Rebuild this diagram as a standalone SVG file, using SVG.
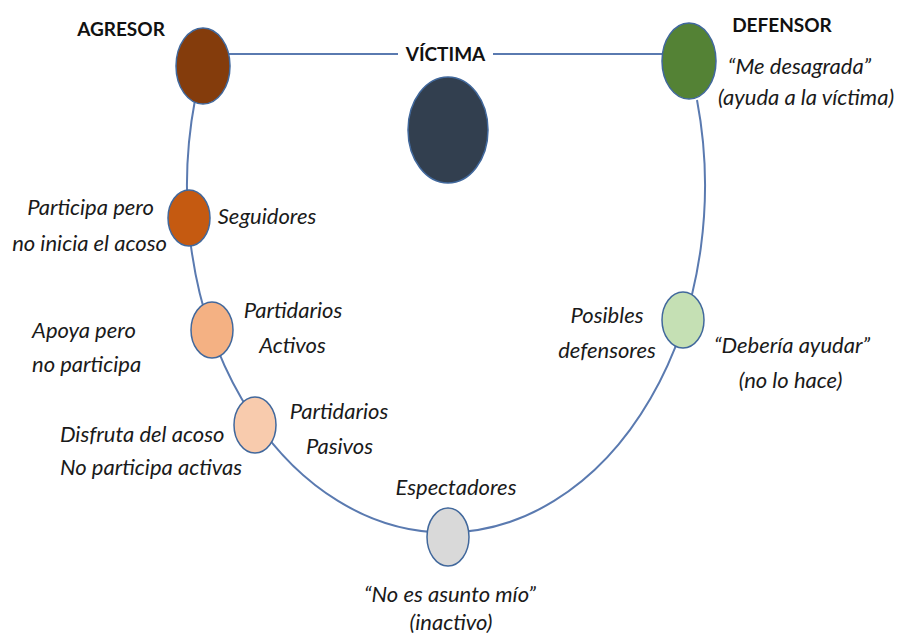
<svg xmlns="http://www.w3.org/2000/svg" width="899" height="638" viewBox="0 0 899 638">
<style>
  .lbl{font-family:Lato,"Open Sans","Liberation Sans",sans-serif;font-size:22px;font-style:italic;fill:#1a1a1a}
  .hd{font-family:Lato,"Open Sans","Liberation Sans",sans-serif;font-size:19px;font-weight:bold;fill:#111}
  .m{text-anchor:middle}
  .node{stroke:#41689c;stroke-width:1.5}
  .conn{fill:none;stroke:#5a7ab0;stroke-width:2}
</style>
<rect width="899" height="638" fill="#fff"/>
<g id="connectors">
  <path class="conn" d="M 195 100 A 259 347 0 1 0 697 100"/>
  <line class="conn" x1="228" y1="54" x2="398" y2="54"/>
  <line class="conn" x1="493" y1="54" x2="664" y2="54"/>
</g>
<g id="agresor">
  <ellipse class="node" cx="203" cy="66" rx="27" ry="38" fill="#843c0c"/>
  <text class="hd m" x="121" y="36">AGRESOR</text>
</g>
<g id="victima">
  <ellipse class="node" cx="448" cy="130" rx="40" ry="53" fill="#323f4f"/>
  <text class="hd m" x="445.5" y="61">VÍCTIMA</text>
</g>
<g id="defensor">
  <ellipse class="node" cx="689" cy="61" rx="27" ry="38" fill="#548235"/>
  <text class="hd m" x="782" y="32">DEFENSOR</text>
  <text class="lbl m" x="799.5" y="74">“Me desagrada”</text>
  <text class="lbl m" x="806" y="105">(ayuda a la víctima)</text>
</g>
<g id="seguidores">
  <ellipse class="node" cx="189" cy="218" rx="21" ry="28" fill="#c55a11"/>
  <text class="lbl m" x="267" y="224">Seguidores</text>
  <text class="lbl m" x="90.5" y="215">Participa pero</text>
  <text class="lbl m" x="89.5" y="251">no inicia el acoso</text>
</g>
<g id="partidarios-activos">
  <ellipse class="node" cx="212" cy="330" rx="21" ry="28" fill="#f4b183"/>
  <text class="lbl m" x="293" y="318">Partidarios</text>
  <text class="lbl m" x="292.5" y="353">Activos</text>
  <text class="lbl" x="32" y="338">Apoya pero</text>
  <text class="lbl" x="32" y="372">no participa</text>
</g>
<g id="partidarios-pasivos">
  <ellipse class="node" cx="255" cy="425" rx="21" ry="28" fill="#f8cbad"/>
  <text class="lbl m" x="339" y="419">Partidarios</text>
  <text class="lbl m" x="339.5" y="454">Pasivos</text>
  <text class="lbl" x="60" y="442">Disfruta del acoso</text>
  <text class="lbl" x="60" y="475">No participa activas</text>
</g>
<g id="espectadores">
  <ellipse class="node" cx="448" cy="537" rx="21" ry="29" fill="#d9d9d9"/>
  <text class="lbl m" x="456" y="495">Espectadores</text>
  <text class="lbl m" x="450" y="602">“No es asunto mío”</text>
  <text class="lbl m" x="451" y="630">(inactivo)</text>
</g>
<g id="posibles-defensores">
  <ellipse class="node" cx="683" cy="320" rx="21" ry="28" fill="#c5e0b4"/>
  <text class="lbl m" x="607" y="323">Posibles</text>
  <text class="lbl m" x="607" y="358">defensores</text>
  <text class="lbl m" x="792" y="353">“Debería ayudar”</text>
  <text class="lbl m" x="790.5" y="388">(no lo hace)</text>
</g>
</svg>
